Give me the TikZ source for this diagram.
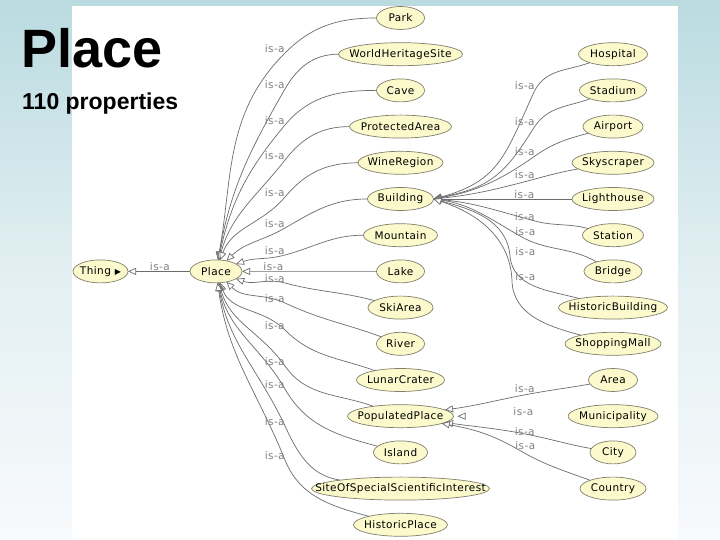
\documentclass[tikz,border=0pt]{standalone}
\usepackage{fontspec}
\setmainfont{Liberation Sans}
\newfontfamily\clsfont[LetterSpace=4]{DejaVu Sans}
\usetikzlibrary{shapes.geometric, arrows.meta, positioning}
\definecolor{slidetop}{RGB}{186,219,224}
\definecolor{slidemid}{RGB}{226,239,242}
\definecolor{slidebot}{RGB}{248,250,252}
\definecolor{clsfill}{RGB}{252,250,204}
\definecolor{clsline}{RGB}{128,128,108}
\definecolor{edgegray}{RGB}{108,108,108}
\definecolor{lblgray}{RGB}{128,128,128}

\begin{document}
\begin{tikzpicture}[
    x=1pt, y=1pt,
    node distance=13.2pt,
    cls/.style={ellipse, draw=clsline, line width=0.7pt, fill=clsfill, inner xsep=-60pt, inner ysep=-10pt, outer sep=0pt, minimum height=23pt, font=\clsfont\fontsize{10.5}{12}\selectfont},
    isa/.style={draw=edgegray, line width=0.7pt, -{Triangle[length=8pt, width=7pt, color=edgegray, fill=white]}},
    lbl/.style={font=\clsfont\fontsize{10.5}{12}\selectfont, text=lblgray, inner sep=0pt, anchor=south east}
]
\useasboundingbox (0,0) rectangle (720,540);
% slide background
\shade[top color=slidetop, bottom color=slidebot, middle color=slidemid] (0,0) rectangle (720,540);
\fill[white] (72,0) rectangle (678,534);

% heading
\node[font=\bfseries\fontsize{54}{54}\selectfont, anchor=base west, inner sep=0pt] (heading) at (21,472) {Place};
\node[font=\bfseries\fontsize{23}{23}\selectfont, anchor=base west, inner sep=0pt] (count) at (22,430) {110 properties};

% root and Place
\node[cls, minimum width=52pt] (place) at (216,268.6) {Place};
\node[cls, minimum width=55pt, left=62pt of place] (thing) {Thing\hspace{4pt}{\fontsize{8}{8}\selectfont ▶}};

% subclasses of Place
\node[cls, minimum width=48pt] (park) at (400.5,522) {Park};
\node[cls, minimum width=124pt, below=of park] (heritage) {WorldHeritageSite};
\node[cls, minimum width=48pt, below=of heritage] (cave) {Cave};
\node[cls, minimum width=102pt, below=of cave] (protected) {ProtectedArea};
\node[cls, minimum width=85pt, below=of protected] (wine) {WineRegion};
\node[cls, minimum width=66pt, below=of wine] (building) {Building};
\node[cls, minimum width=74pt, below=of building] (mountain) {Mountain};
\node[cls, minimum width=48pt, below=of mountain] (lake) {Lake};
\node[cls, minimum width=65pt, below=of lake] (ski) {SkiArea};
\node[cls, minimum width=48pt, below=of ski] (river) {River};
\node[cls, minimum width=88pt, below=of river] (crater) {LunarCrater};
\node[cls, minimum width=106pt, below=of crater] (populated) {PopulatedPlace};
\node[cls, minimum width=54pt, below=of populated] (island) {Island};
\node[cls, minimum width=178pt, below=of island] (sssi) {SiteOfSpecialScientificInterest};
\node[cls, minimum width=94pt, below=of sssi] (historicplace) {HistoricPlace};

% subclasses of Building and PopulatedPlace
\node[cls, minimum width=69pt] (hospital) at (613,485.8) {Hospital};
\node[cls, minimum width=67pt, below=of hospital] (stadium) {Stadium};
\node[cls, minimum width=60pt, below=of stadium] (airport) {Airport};
\node[cls, minimum width=82pt, below=of airport] (skyscraper) {Skyscraper};
\node[cls, minimum width=82pt, below=of skyscraper] (lighthouse) {Lighthouse};
\node[cls, minimum width=61pt, below=of lighthouse] (station) {Station};
\node[cls, minimum width=58pt, below=of station] (bridge) {Bridge};
\node[cls, minimum width=109pt, below=of bridge] (histbuilding) {HistoricBuilding};
\node[cls, minimum width=96pt, below=of histbuilding] (mall) {ShoppingMall};
\node[cls, minimum width=49pt, below=of mall] (area) {Area};
\node[cls, minimum width=90pt, below=of area] (municipality) {Municipality};
\node[cls, minimum width=46pt, below=of municipality] (city) {City};
\node[cls, minimum width=66pt, below=of city] (country) {Country};

% is-a links
\draw[isa] (place) -- node[lbl, pos=0.32]{is-a} (thing);

\draw[isa] (park) to[out=180, in=45] (285,487) node[lbl]{is-a} to[out=225, in=80] (place);
\draw[isa] (heritage) to[out=180, in=60] (285,451) node[lbl]{is-a} to[out=240, in=80] (place);
\draw[isa] (cave) to[out=180, in=50] (285,415) node[lbl]{is-a} to[out=230, in=78] (place);
\draw[isa] (protected) to[out=180, in=52] (285,380) node[lbl]{is-a} to[out=232, in=75] (place);
\draw[isa] (wine) to[out=180, in=50] (285,343) node[lbl]{is-a} to[out=230, in=70] (place);
\draw[isa] (building) to[out=180, in=30] (285,312) node[lbl]{is-a} to[out=210, in=45] (place);
\draw[isa] (mountain) to[out=180, in=15] (285,285) node[lbl]{is-a} to[out=195, in=20] (place);
\draw[isa] (lake) -- node[lbl, pos=0.69]{is-a} (place);
\draw[isa] (ski) to[out=165, in=-15] (285,257) node[lbl]{is-a} to[out=165, in=-20] (place);
\draw[isa] (river) to[out=160, in=-25] (285,237) node[lbl]{is-a} to[out=155, in=-45] (place);
\draw[isa] (crater) to[out=160, in=-45] (285,210) node[lbl]{is-a} to[out=135, in=-70] (place);
\draw[isa] (populated) to[out=160, in=-55] (285,174) node[lbl]{is-a} to[out=125, in=-75] (place);
\draw[isa] (island) to[out=165, in=-60] (285,151) node[lbl]{is-a} to[out=120, in=-78] (place);
\draw[isa] (sssi) to[out=172, in=-65] (285,114) node[lbl]{is-a} to[out=115, in=-80] (place);
\draw[isa] (historicplace) to[out=165, in=-68] (285,80) node[lbl]{is-a} to[out=112, in=-82] (place);

\draw[isa] (hospital) to[out=200, in=61] (535,450) node[lbl]{is-a} to[out=245, in=15, looseness=1.2] (building.east);
\draw[isa] (stadium) to[out=200, in=55] (535,414) node[lbl]{is-a} to[out=238, in=12, looseness=1.2] (building.east);
\draw[isa] (airport) to[out=195, in=35] (535,384) node[lbl]{is-a} to[out=215, in=10] (building.east);
\draw[isa] (skyscraper) to[out=190, in=15] (535,361) node[lbl]{is-a} to[out=195, in=6] (building.east);
\draw[isa] (lighthouse) -- node[lbl, pos=0.27]{is-a} (building);
\draw[isa] (station) to[out=165, in=-15] (535,319) node[lbl]{is-a} to[out=165, in=-5] (building.east);
\draw[isa] (bridge) to[out=150, in=-30] (520,304) node[lbl, anchor=south west, xshift=-5pt]{is-a} to[out=150, in=-8] (building.east);
\draw[isa] (histbuilding) to[out=165, in=-85] (510,284) node[lbl, anchor=south west, xshift=5pt]{is-a} to[out=95, in=-15] (building.east);
\draw[isa] (mall) to[out=165, in=-88] (512,259) node[lbl, anchor=south west, xshift=3pt]{is-a} to[out=92, in=-18] (building.east);

\draw[isa, draw=white, shorten >=4pt] (municipality) -- node[lbl, pos=0.3]{is-a} (populated);
\draw[isa] (area) to[out=190, in=10] (535,147) node[lbl]{is-a} to[out=190, in=8] (populated);
\draw[isa] (city) to[out=170, in=-12] (535,104) node[lbl]{is-a} to[out=168, in=-8] (populated);
\draw[isa] (country) to[out=160, in=-30] (519,90) node[lbl, anchor=south west, xshift=-4pt]{is-a} to[out=150, in=-10] (populated);

\end{tikzpicture}
\end{document}
